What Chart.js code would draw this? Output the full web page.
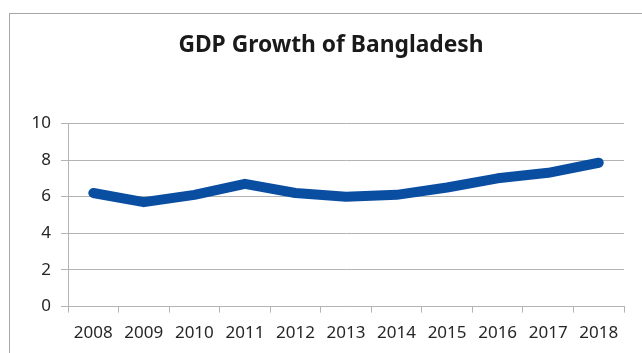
<!DOCTYPE html>
<html>
<head>
<meta charset="utf-8">
<title>GDP Growth of Bangladesh</title>
<script src="https://cdn.jsdelivr.net/npm/chart.js@4"></script>
<style>
  html, body { margin: 0; padding: 0; background: #ffffff; }
  #wrap { width: 642px; height: 353px; position: relative; }
</style>
</head>
<body>
<div id="wrap"><canvas id="chart" width="642" height="353"></canvas></div>
<script>
// Annual GDP growth rate (%)
const years = ['2008', '2009', '2010', '2011', '2012', '2013', '2014', '2015', '2016', '2017', '2018'];
const growth = [6.2, 5.7, 6.1, 6.7, 6.2, 6.0, 6.1, 6.5, 7.0, 7.3, 7.85];
const yTicks = [0, 2, 4, 6, 8, 10];

const GRID = '#b3b3b3';
const TEXT = '#262626';
const FONT = '"Noto Sans", sans-serif';

// Light grey frame around the whole chart; the title is centred on the frame
const framePlugin = {
  id: 'frame',
  afterLayout(chart) {
    const tb = chart.titleBlock;
    if (tb) {
      const dx = 331 - (tb.left + tb.right) / 2;
      tb.left += dx;
      tb.right += dx;
    }
  },
  beforeDraw(chart) {
    const ctx = chart.ctx;
    ctx.save();
    ctx.fillStyle = '#ffffff';
    ctx.fillRect(0, 0, chart.width, chart.height);
    ctx.strokeStyle = '#a6a6a6';
    ctx.lineWidth = 1;
    ctx.strokeRect(9.5, 13.5, chart.width + 20, chart.height + 20);
    ctx.restore();
  }
};

new Chart(document.getElementById('chart'), {
  type: 'line',
  data: {
    labels: years,
    datasets: [{
      label: 'GDP Growth',
      data: growth,
      borderColor: '#0a4ea2',
      borderWidth: 10,
      borderCapStyle: 'round',
      borderJoinStyle: 'round',
      tension: 0,
      pointRadius: 0,
      pointHoverRadius: 0,
      fill: false
    }]
  },
  options: {
    responsive: false,
    animation: false,
    layout: { padding: { left: 10, right: 18, top: 18, bottom: 0 } },
    plugins: {
      legend: { display: false },
      tooltip: { enabled: false },
      title: {
        display: true,
        text: 'GDP Growth of Bangladesh',
        color: '#1a1a1a',
        font: { family: FONT, size: 22.8, weight: 'bold' },
        padding: { top: 14, bottom: 64 }
      }
    },
    scales: {
      x: {
        offset: true,
        grid: {
          offset: true,
          drawOnChartArea: false,
          drawTicks: true,
          tickLength: 6,
          color: GRID
        },
        border: { display: true, color: GRID },
        ticks: {
          color: TEXT,
          padding: 10,
          maxRotation: 0,
          autoSkip: false,
          font: { family: FONT, size: 17 }
        }
      },
      y: {
        min: 0,
        max: 10,
        afterFit(scale) { scale.width = 58; },
        afterBuildTicks(scale) { scale.ticks = yTicks.map(v => ({ value: v })); },
        grid: {
          color: GRID,
          tickLength: 7,
          drawTicks: true
        },
        border: { display: true, color: GRID },
        ticks: {
          color: TEXT,
          padding: 10,
          font: { family: FONT, size: 17 }
        }
      }
    }
  },
  plugins: [framePlugin]
});
</script>
</body>
</html>
